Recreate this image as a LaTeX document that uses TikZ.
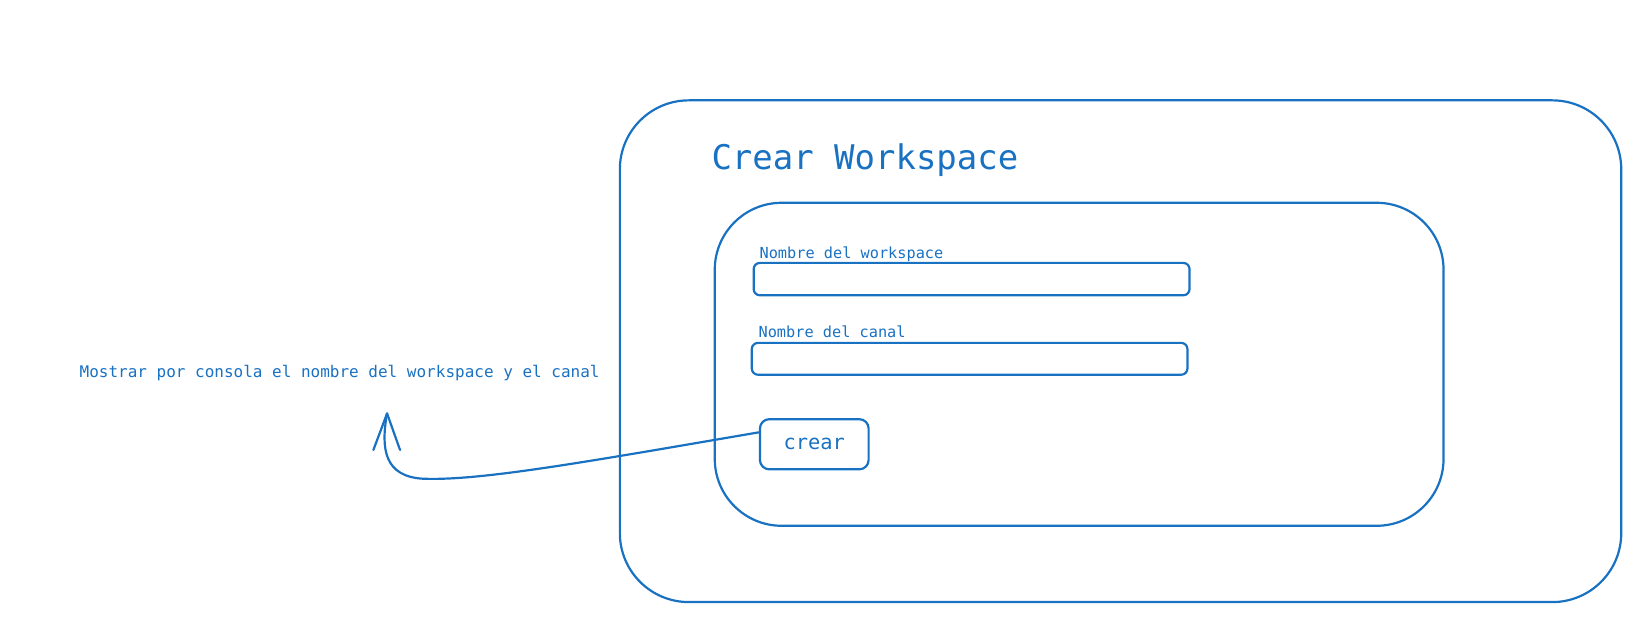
\documentclass[tikz,border=0pt]{standalone}
\usepackage{fontspec}
\setmonofont{DejaVu Sans Mono}
\definecolor{exblue}{HTML}{1971C2}
\begin{document}
\begin{tikzpicture}[x=1pt,y=-1pt,
  line/.style={draw=exblue,line width=2.1pt},
  txt/.style={text=exblue,font=\ttfamily,inner sep=0pt,anchor=base west},
  lbl/.style={txt,font=\ttfamily\fontsize{14.6}{16}\selectfont},
  box/.style={line,rounded corners=#1}]
\useasboundingbox (0,0) rectangle (1568,591.4);
% outer frame
\draw[box=66pt] (593,96) rectangle (1551,576);
\node[txt,font=\ttfamily\fontsize{32.5}{36}\selectfont] (title) at (680.5,162.6) {Crear Workspace};
% inner frame
\draw[box=64pt] (683.8,194) rectangle (1381,503);
\node[lbl] (l1) at (726.5,247) {Nombre del workspace};
\draw[box=6pt] (721,251.5) rectangle (1138,282.5);
\node[lbl] (l2) at (725.5,322.7) {Nombre del canal};
\draw[box=6pt] (719.2,328) rectangle (1136,358.5);
% button
\node[line,rounded corners=9pt,minimum width=104pt,minimum height=48pt,inner sep=0pt,
  font=\ttfamily\fontsize{19.5}{22}\selectfont,text=exblue] (btn) at (779,425) {\raisebox{-2pt}{crear}};
% side text
\node[lbl,font=\ttfamily\fontsize{15.3}{17}\selectfont] (msg) at (76,361) {Mostrar por consola el nombre del workspace y el canal};
\coordinate (tip) at (370.3,395.5);
\draw[line,line cap=round,line join=round] (btn.west |- 0,413.6) .. controls (560,442) and (460,460) .. (405,458)
  .. controls (368,456) and (364,430) .. (tip);
\draw[line,line cap=round,line join=round] (357.2,430.5) -- (tip) -- (382.7,430.5);
\end{tikzpicture}
\end{document}
